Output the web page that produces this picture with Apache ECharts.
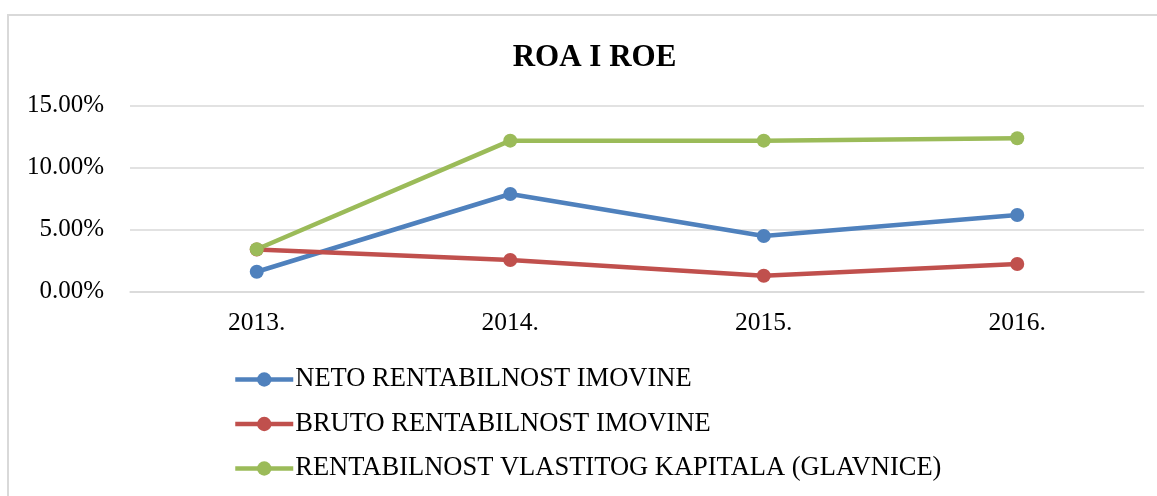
<!DOCTYPE html>
<html>
<head>
<meta charset="utf-8">
<script src="https://cdn.jsdelivr.net/npm/echarts@6/dist/echarts.min.js"></script>
<style>
html,body{margin:0;padding:0;background:#fff;}
#chart{width:1157px;height:496px;}
</style>
</head>
<body>
<div id="chart"></div>
<script>
const categories = ['2013.', '2014.', '2015.', '2016.'];
const netoRentabilnostImovine = [1.61, 7.88, 4.49, 6.19];
const brutoRentabilnostImovine = [3.40, 2.56, 1.29, 2.23];
const rentabilnostVlastitogKapitala = [3.42, 12.18, 12.18, 12.37];
const seriesNames = ['NETO RENTABILNOST IMOVINE', 'BRUTO RENTABILNOST IMOVINE', 'RENTABILNOST VLASTITOG KAPITALA (GLAVNICE)'];
const yTicks = [0, 5, 10, 15];

const chart = echarts.init(document.getElementById('chart'));
const font = 'Liberation Serif';
function mkSeries(name, data, color) {
  return {
    name: name, type: 'line', data: data,
    symbol: 'circle', symbolSize: 14,
    lineStyle: {color: color, width: 4.5},
    itemStyle: {color: color},
    emphasis: {disabled: true},
    animation: false
  };
}
chart.setOption({
  animation: false,
  backgroundColor: '#fff',
  title: {
    text: 'ROA I ROE',
    left: 589.5, textAlign: 'center', top: 37,
    textStyle: {fontFamily: font, fontSize: 31, fontWeight: 'bold', color: '#000'}
  },
  graphic: [{
    type: 'rect', silent: true, z: -1,
    shape: {x: 8, y: 15, width: 1170, height: 500},
    style: {fill: 'none', stroke: '#d9d9d9', lineWidth: 2}
  }],
  legend: {
    orient: 'vertical', left: 233, top: 366, padding: 0,
    itemWidth: 58, itemHeight: 18, itemGap: 17.5,
    lineStyle: {width: 4.5},
    textStyle: {fontFamily: font, fontSize: 26.5, color: '#000', lineHeight: 25, padding: [0, 0, 0, -3]},
    data: seriesNames
  },
  grid: {left: 130, right: 13, top: 105.7, bottom: 204.3},
  xAxis: {
    type: 'category', data: categories, boundaryGap: true,
    axisLine: {show: true, lineStyle: {color: '#d9d9d9', width: 1.5}},
    axisTick: {show: false},
    axisLabel: {fontFamily: font, fontSize: 25.5, color: '#000', margin: 19}
  },
  yAxis: {
    type: 'value', min: yTicks[0], max: yTicks[yTicks.length - 1], interval: 5,
    axisLine: {show: false}, axisTick: {show: false},
    splitLine: {lineStyle: {color: '#d9d9d9', width: 1.5}},
    axisLabel: {fontFamily: font, fontSize: 25, color: '#000', margin: 26,
      formatter: v => v.toFixed(2) + '%'}
  },
  series: [
    mkSeries(seriesNames[0], netoRentabilnostImovine, '#4F81BD'),
    mkSeries(seriesNames[1], brutoRentabilnostImovine, '#C0504D'),
    mkSeries(seriesNames[2], rentabilnostVlastitogKapitala, '#9BBB59')
  ]
});
</script>
</body>
</html>
